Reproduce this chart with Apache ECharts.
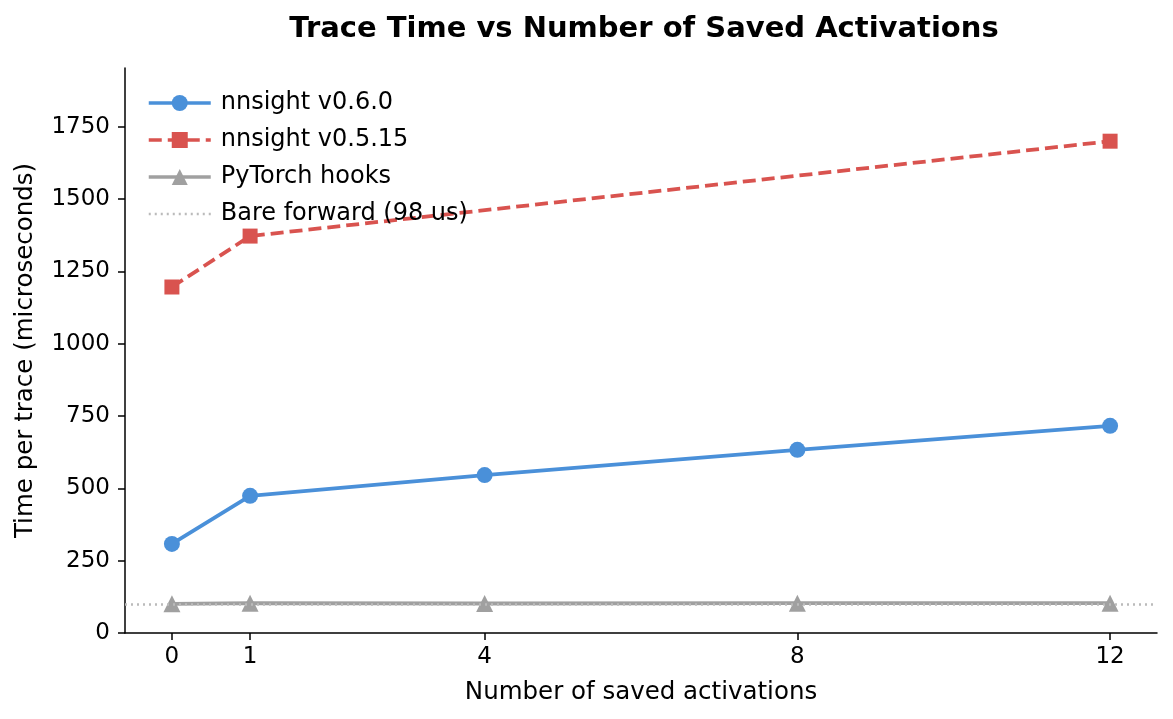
<!DOCTYPE html>
<html>
<head>
<meta charset="utf-8">
<script src="https://cdn.jsdelivr.net/npm/echarts@6/dist/echarts.min.js"></script>
<style>
html,body{margin:0;padding:0;background:#fff;}
#chart{width:1173px;height:719px;}
</style>
</head>
<body>
<div id="chart"></div>
<script>
// ---- data ----
const xTicks = [0, 1, 4, 8, 12];
const yTicks = [0, 250, 500, 750, 1000, 1250, 1500, 1750];
const v060X = [0, 1, 4, 8, 12];
const v060Y = [308, 474, 546, 633, 716];
const v0515X = [0, 1, 12];
const v0515Y = [1196, 1372, 1700];
const hooksX = [0, 1, 4, 8, 12];
const hooksY = [101, 103, 102, 103, 103];
const bareForward = 98;
const xMin = -0.6, xMax = 12.6, yMin = 0, yMax = 1953;

const FONT = 'DejaVu Sans';
const pairs = (xs, ys) => xs.map((x, i) => [x, ys[i]]);

const chart = echarts.init(document.getElementById('chart'), null, {renderer: 'canvas'});
chart.setOption({
  animation: false,
  backgroundColor: '#ffffff',
  textStyle: {fontFamily: FONT},
  title: {
    text: 'Trace Time vs Number of Saved Activations',
    left: 639, top: 10, textAlign: 'center',
    textStyle: {fontFamily: FONT, fontSize: 29, fontWeight: 'bold', color: '#000'}
  },
  grid: {left: 125, right: 16, top: 68, bottom: 86, containLabel: false},
  legend: {
    orient: 'vertical', left: 142, top: 86,
    itemWidth: 62, itemHeight: 20, itemGap: 13,
    textStyle: {fontFamily: FONT, fontSize: 24, color: '#000', padding: [0, 0, 0, 5]},
    data: [
      {name: 'nnsight v0.6.0', lineStyle: {width: 3.5}},
      {name: 'nnsight v0.5.15', lineStyle: {width: 3.5}},
      {name: 'PyTorch hooks', lineStyle: {width: 3.5}},
      {name: 'Bare forward (98 us)', lineStyle: {width: 2.5}, itemStyle: {opacity: 0}}
    ]
  },
  xAxis: {
    type: 'value', min: xMin, max: xMax,
    name: 'Number of saved activations', nameLocation: 'middle', nameGap: 47,
    nameTextStyle: {fontFamily: FONT, fontSize: 24.5, color: '#000'},
    axisLine: {show: true, onZero: false, lineStyle: {color: '#000', width: 1.5}},
    axisTick: {show: true, length: 7, lineStyle: {color: '#000', width: 1.5}, customValues: xTicks},
    axisLabel: {fontFamily: FONT, fontSize: 23, color: '#000', margin: 13, customValues: xTicks},
    splitLine: {show: false}
  },
  yAxis: {
    type: 'value', min: yMin, max: yMax,
    name: 'Time per trace (microseconds)', nameLocation: 'middle', nameGap: 87, nameRotate: 90,
    nameTextStyle: {fontFamily: FONT, fontSize: 24.5, color: '#000'},
    axisLine: {show: true, onZero: false, lineStyle: {color: '#000', width: 1.5}},
    axisTick: {show: true, length: 7, lineStyle: {color: '#000', width: 1.5}, customValues: yTicks},
    axisLabel: {fontFamily: FONT, fontSize: 23, color: '#000', margin: 15, customValues: yTicks,
      formatter: v => String(v)},
    splitLine: {show: false}
  },
  series: [
    {
      name: 'Bare forward (98 us)', type: 'line', data: [],
      symbol: 'none', color: '#bbbbbb',
      lineStyle: {color: '#bbbbbb', width: 2.5, type: [2, 4]},
      markLine: {
        silent: true, symbol: 'none', label: {show: false},
        lineStyle: {color: '#bbbbbb', width: 2.5, type: [2, 4]},
        data: [{yAxis: bareForward}]
      },
      z: 1
    },
    {
      name: 'PyTorch hooks', type: 'line', data: pairs(hooksX, hooksY),
      symbol: 'triangle', symbolSize: 17, color: '#a0a0a0',
      lineStyle: {color: '#a0a0a0', width: 3.8},
      itemStyle: {color: '#a0a0a0'}, z: 2
    },
    {
      name: 'nnsight v0.6.0', type: 'line', data: pairs(v060X, v060Y),
      symbol: 'circle', symbolSize: 16, color: '#4a90d9',
      lineStyle: {color: '#4a90d9', width: 3.8},
      itemStyle: {color: '#4a90d9'}, z: 3
    },
    {
      name: 'nnsight v0.5.15', type: 'line', data: pairs(v0515X, v0515Y),
      symbol: 'rect', symbolSize: 15, color: '#d9534f',
      lineStyle: {color: '#d9534f', width: 3.8, type: [13, 6]},
      itemStyle: {color: '#d9534f'}, z: 3
    }
  ]
});
</script>
</body>
</html>
